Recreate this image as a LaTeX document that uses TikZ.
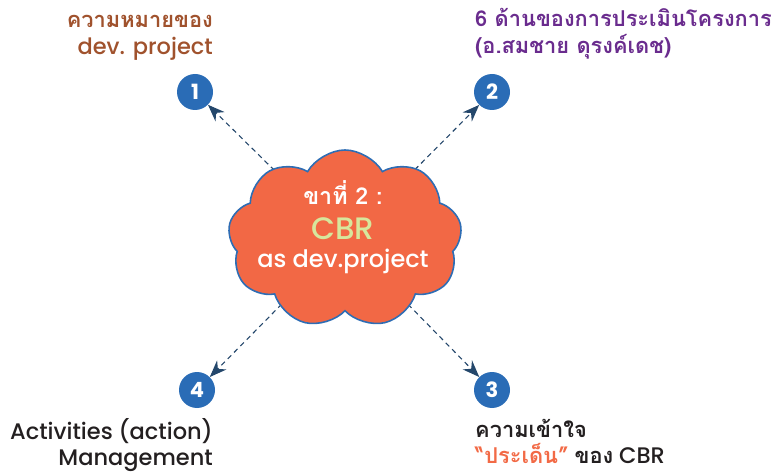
\documentclass[tikz,border=0pt]{standalone}
\usepackage{fontspec}
\setmainfont{Poppins}[BoldFont={* Medium}]
\newfontfamily\thai[Script=Thai,Scale=0.97]{Loma}
\newfontfamily\heavy{Poppins}[UprightFont={* Bold}]
\usetikzlibrary{shapes.symbols,arrows.meta}
\definecolor{brownT}{HTML}{A0522D}
\definecolor{purpleT}{HTML}{6A2C8E}
\definecolor{orangeT}{HTML}{F26A46}
\definecolor{cloudFill}{HTML}{F26845}
\definecolor{cloudLine}{HTML}{2E6DB4}
\definecolor{numBlue}{HTML}{2A6CB6}
\definecolor{arrowC}{HTML}{24476B}
\definecolor{cbrGreen}{HTML}{D7E69C}
\definecolor{darkT}{HTML}{231F20}
\tikzset{
  numcirc/.style={circle,fill=numBlue,minimum size=36pt,inner sep=0pt,text=white,font=\heavy\fontsize{21}{21}\selectfont},
  lbl/.style={inner sep=0pt,font=\bfseries\fontsize{22.5}{22.5}\selectfont},
  conn/.style={draw=arrowC,line width=1.1pt,dash pattern=on 5pt off 4pt,-{Stealth[length=17pt,width=13pt]}},
  cloudtxt/.style={inner sep=0pt,text=white,font=\bfseries\fontsize{24}{24}\selectfont}
}
\begin{document}
\begin{tikzpicture}[x=1pt,y=-1pt]
\path[use as bounding box] (0,0) rectangle (774,473);
% number circles
\node[numcirc] (n1) at (195,92) {1};
\node[numcirc] (n2) at (492,92) {2};
\node[numcirc] (n3) at (492,390) {3};
\node[numcirc] (n4) at (197,390) {4};
\coordinate (cc) at (345,240);
% connectors
\draw[conn] (cc) -- (n1);
\draw[conn] (cc) -- (n2);
\draw[conn] (cc) -- (n3);
\draw[conn] (cc) -- (n4);
% cloud
\node[cloud,cloud puffs=9,cloud puff arc=120,aspect=1.3,draw=cloudLine,fill=cloudFill,line width=1.6pt,minimum width=234pt,minimum height=178pt,inner sep=0pt] (cloud) at (345,239) {};
\node[cloudtxt,anchor=base] (c1) at (343,205) {\thai\bfseries ขาที่ 2 :};
\node[cloudtxt,anchor=base,text=cbrGreen,font=\bfseries\fontsize{31}{31}\selectfont] (c2) at (343,240) {CBR};
\node[cloudtxt,anchor=base] (c3) at (343,268) {as dev.project};
% label 1
\node[lbl,text=brownT,anchor=base east] (t1a) at (213,28) {\thai\bfseries ความหมายของ};
\node[lbl,text=brownT,anchor=base east] (t1b) at (213,55) {dev. project};
% label 2
\node[lbl,text=purpleT,anchor=base west] (t2a) at (475,27) {\thai\bfseries 6 ด้านของการประเมินโครงการ};
\node[lbl,text=purpleT,anchor=base west] (t2b) at (475,54) {\thai\bfseries (อ.สมชาย ดุรงค์เดช)};
% label 4
\node[lbl,text=darkT,anchor=base east] (t4a) at (213,439) {Activities (action)};
\node[lbl,text=darkT,anchor=base east] (t4b) at (213,465) {Management};
% label 3
\node[lbl,text=darkT,anchor=base west] (t3a) at (475,437) {\thai\bfseries ความเข้าใจ};
\node[lbl,text=darkT,anchor=base west] (t3b) at (475,463) {{\color{orangeT}\thai\bfseries “ประเด็น”} {\thai\bfseries ของ} CBR};
\end{tikzpicture}
\end{document}
